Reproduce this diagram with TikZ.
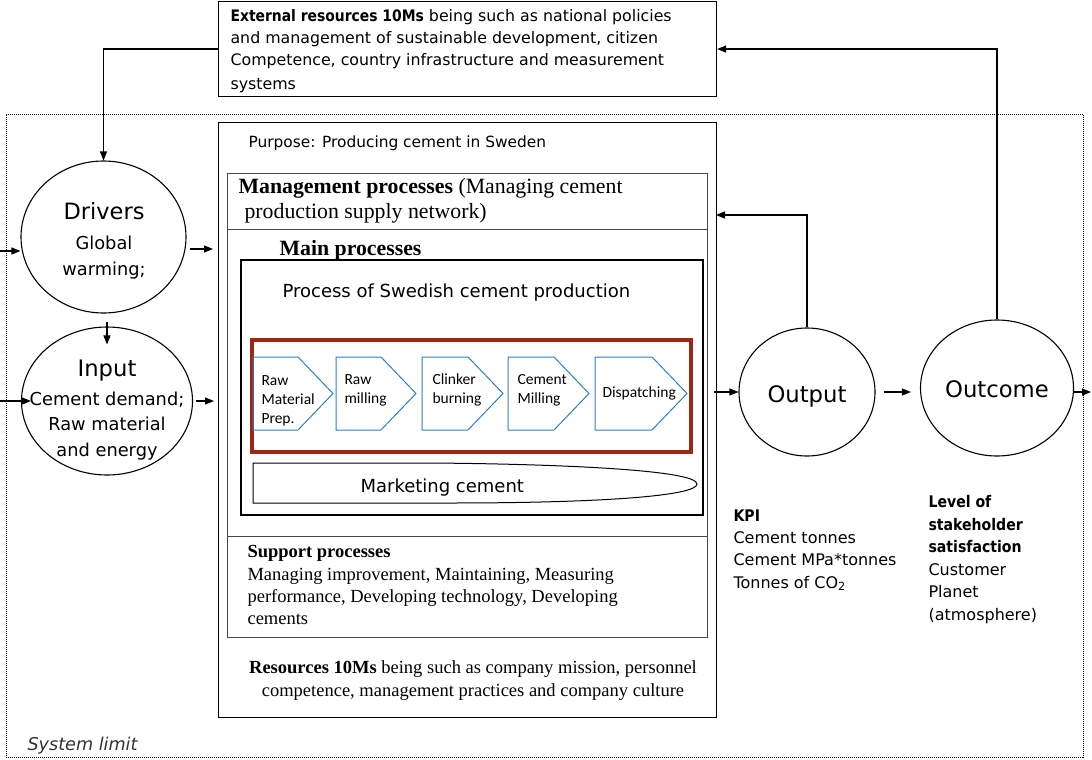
\documentclass[tikz,border=0pt]{standalone}
\usepackage{fontspec}
\setmainfont{Liberation Serif}
\setsansfont{DejaVu Sans}[BoldFeatures={FakeStretch=0.88}]
\newfontfamily\chevfont{Carlito}
\usetikzlibrary{arrows.meta,shapes.geometric}
\definecolor{brick}{RGB}{155,40,20}
\definecolor{stepblue}{RGB}{45,125,200}
\newcommand\fs[1]{\fontsize{#1}{#1}\selectfont}
% one process step: left edge, tip
\newcommand\chevron[2]{\draw[chevline] (#1,357) -- ({#2-35},357) -- (#2,393.5) -- ({#2-35},430) -- (#1,430) -- cycle;}
\begin{document}
\begin{tikzpicture}[x=1pt,y=-1pt,line width=1.1pt,
  arr/.style={-{Triangle[length=9pt,width=7pt]}},
  frame/.style={draw,inner sep=0pt,anchor=north west},
  inbox/.style={frame,draw=black!72,line width=1.3pt},
  oval/.style={ellipse,draw,inner sep=0pt},
  chevline/.style={draw=stepblue,line width=1pt,line join=miter},
  txt/.style={inner sep=0pt,anchor=base west},
  ctxt/.style={inner sep=0pt,anchor=base},
  sansS/.style={font=\sffamily\fs{15.8}},
  sansM/.style={font=\sffamily\fs{17.8}},
  sansL/.style={font=\sffamily\fs{22.7}},
  serifS/.style={font=\rmfamily\fs{18.5}},
  serifL/.style={font=\rmfamily\fs{21.8}},
  chevtxt/.style={txt,font=\chevfont\fs{15.5}}]
\useasboundingbox (0,0) rectangle (1092,760);

% system limit
\node[frame,dash pattern=on 1pt off 1pt,line width=0.9pt,minimum width=1077pt,minimum height=643pt] (sys) at (6,114) {};
\node[txt,font=\sffamily\itshape\fs{17.6},text=black!80] (syslbl) at (27,750) {System limit};

% external resources
\node[frame,minimum width=498pt,minimum height=95pt] (ext) at (218,1) {};
\node[txt,sansS] (ext1) at (230,22) {\textbf{External resources 10Ms} being such as national policies};
\node[txt,sansS] (ext2) at (230,44) {and management of sustainable development, citizen};
\node[txt,sansS] (ext3) at (230,66) {Competence, country infrastructure and measurement};
\node[txt,sansS] (ext4) at (230,89) {systems};

% organisation
\node[frame,minimum width=498pt,minimum height=595pt] (org) at (218,122) {};
\node[txt,font=\sffamily\fs{15.4}] (purp) at (248,147) {Purpose: Producing cement in Sweden};

\node[inbox,minimum width=480pt,minimum height=56pt] (mgmt) at (227,173) {};
\node[inbox,minimum width=480pt,minimum height=307pt] (mainp) at (227,229) {};
\node[inbox,minimum width=480pt,minimum height=101pt] (supp) at (227,536) {};

\node[txt,serifL] (mg1) at (238,193) {\textbf{Management processes} (Managing cement};
\node[txt,serifL] (mg2) at (244,218) {production supply network)};
\node[txt,serifL] (mainlbl) at (279,255) {\textbf{Main processes}};

\node[frame,line width=2.4pt,minimum width=462pt,minimum height=255pt] (proc) at (240,259) {};
\node[txt,font=\sffamily\fs{18}] (proclbl) at (282,297) {Process of Swedish cement production};

\node[frame,draw=brick,line width=4pt,minimum width=439pt,minimum height=112pt] (redb) at (250,338) {};

% production steps
\chevron{253}{333}
\chevron{336}{416}
\chevron{422}{503}
\chevron{508}{589}
\chevron{595}{687}

\node[chevtxt] (c1a) at (261,385) {Raw};
\node[chevtxt] (c1b) at (261,404) {Material};
\node[chevtxt] (c1c) at (261,423) {Prep.};
\node[chevtxt] (c2a) at (344,384) {Raw};
\node[chevtxt] (c2b) at (344,403) {milling};
\node[chevtxt] (c3a) at (432,384) {Clinker};
\node[chevtxt] (c3b) at (432,403) {burning};
\node[chevtxt] (c4a) at (517,384) {Cement};
\node[chevtxt] (c4b) at (517,403) {Milling};
\node[chevtxt] (c5a) at (602,397) {Dispatching};

% marketing band
\draw[line width=1pt] (253,463) -- (430,463)
  .. controls (560,464) and (697,470) .. (697,484)
  .. controls (697,496) and (600,503) .. (450,503) -- (253,503) -- cycle;
\node[txt,font=\sffamily\fs{18}] (mkt) at (360,492) {Marketing cement};

% support processes and resources
\node[txt,serifS] (sp0) at (247,557) {\textbf{Support processes}};
\node[txt,serifS] (sp1) at (247,580) {Managing improvement, Maintaining, Measuring};
\node[txt,serifS] (sp2) at (247,602) {performance, Developing technology, Developing};
\node[txt,serifS] (sp3) at (247,624) {cements};
\node[ctxt,serifS] (res1) at (473,673) {\textbf{Resources 10Ms} being such as company mission, personnel};
\node[ctxt,serifS] (res2) at (473,696) {competence, management practices and company culture};

% drivers and input
\node[oval,minimum width=165pt,minimum height=152pt] (drv) at (103.5,237) {};
\node[ctxt,font=\sffamily\fs{22.5}] (drvt) at (104,219) {Drivers};
\node[ctxt,sansM] (drv1) at (104,249) {Global};
\node[ctxt,sansM] (drv2) at (104,275) {warming;};

\node[oval,minimum width=171pt,minimum height=148pt] (inp) at (107,401) {};
\node[ctxt,sansL] (inpt) at (107,376) {Input};
\node[ctxt,sansM] (inp1) at (107,405) {Cement demand;};
\node[ctxt,sansM] (inp2) at (107,430) {Raw material};
\node[ctxt,sansM] (inp3) at (107,456) {and energy};

% output and outcome
\node[oval,minimum width=136pt,minimum height=128pt] (outp) at (807,392) {};
\node[ctxt,sansL] (outpt) at (807,402) {Output};
\node[oval,minimum width=153pt,minimum height=136pt] (outc) at (997,388) {};
\node[ctxt,sansL] (outct) at (997,397) {Outcome};

\node[txt,font=\sffamily\fs{16}] (kpi0) at (733,521) {\textbf{KPI}};
\node[txt,font=\sffamily\fs{16}] (kpi1) at (733,543) {Cement tonnes};
\node[txt,font=\sffamily\fs{16}] (kpi2) at (733,565) {Cement MPa*tonnes};
\node[txt,font=\sffamily\fs{16}] (kpi3) at (733,588) {Tonnes of CO\textsubscript{2}};

\node[txt,font=\sffamily\fs{16}] (lv1) at (928,507) {\textbf{Level of}};
\node[txt,font=\sffamily\fs{16}] (lv2) at (928,530) {\textbf{stakeholder}};
\node[txt,font=\sffamily\fs{16}] (lv3) at (928,552) {\textbf{satisfaction}};
\node[txt,font=\sffamily\fs{16}] (lv4) at (928,575) {Customer};
\node[txt,font=\sffamily\fs{16}] (lv5) at (928,597) {Planet};
\node[txt,font=\sffamily\fs{16}] (lv6) at (928,620) {(atmosphere)};

% connectors
\coordinate (inD) at (0,251);
\coordinate (inI) at (0,401);
\coordinate (d2o) at (190,249);
\coordinate (d2i) at (107,322);
\coordinate (fb) at (716,215);
\coordinate (rend) at (1091,392);

\draw[arr] (ext.west) -| (drv.north);
\draw[arr] (outc.north) |- (ext.east);
\draw[arr] (outp.north) |- (fb);
\draw[arr] (inD) -- (inD -| drv.west);
\draw[arr,shorten >=5pt] (d2o) -- (d2o -| org.west);
\draw[arr] (d2i) -- ([yshift=-18pt]inp.north);
\draw[arr] (inI) -- ([xshift=10pt]inp.west);
\draw[arr,shorten <=3pt,shorten >=4pt] (inp.east) -- (inp.east -| org.west);
\draw[arr,shorten <=-3pt] (outp.west -| org.east) -- (outp.west);
\draw[arr,shorten <=8pt,shorten >=9pt] (outp.east) -- (outp.east -| outc.west);
\draw[arr] (outc.east |- rend) -- (rend);
\end{tikzpicture}
\end{document}
